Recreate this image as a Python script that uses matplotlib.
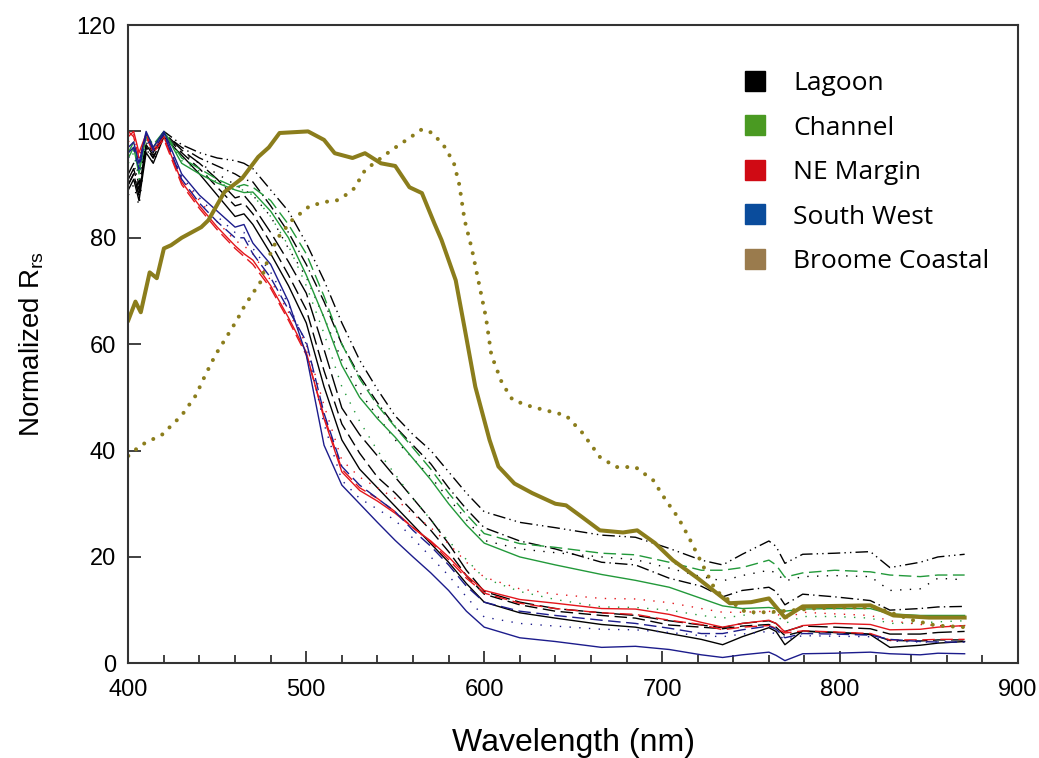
import matplotlib.pyplot as plt
from matplotlib.lines import Line2D


# Wavelength grid shared by the thin site curves (nm)
wl = [400, 403, 406, 410, 414, 420, 430, 440, 450, 460,
      465, 470, 480, 490, 500, 510, 520, 530, 540, 550,
      560, 570, 580, 590, 600, 620, 640, 666, 685, 704,
      722, 734, 745, 760, 764, 769, 779, 797, 817, 828,
      845, 855, 870]

# Lagoon (black)
lag_ddd = [92, 94, 90, 98, 96, 100, 97.5, 96, 95, 94.5,
           94, 93, 89, 85, 79, 72, 64, 57, 51.5, 46.5,
           43, 40, 36, 32, 28.5, 26.5, 25.5, 24.1, 23.7, 21.6,
           19.4, 18.5, 20.5, 23, 22, 18.8, 20.5, 20.7, 21, 18,
           19, 20, 20.5]
lag_dd = [90, 92, 88, 97, 95, 99.5, 97, 95, 93.5, 92,
          91, 90.5, 86, 81, 75, 68, 60, 54, 49, 44.5,
          41, 37.5, 33, 29, 25.5, 23, 21.5, 19, 18.5, 16,
          14.5, 12.5, 13.7, 14.3, 13.5, 11, 13, 12.5, 11.8, 10,
          10.3, 10.6, 10.7]
lag_dot = [88, 90, 86, 97, 94, 99.5, 96, 94, 92, 90,
           89, 88, 84, 78, 72.6, 65, 57, 51, 46.5, 42,
           38.5, 35, 31, 27, 23.1, 21.5, 20.8, 20, 19.5, 17.9,
           16.3, 15.5, 16.5, 17.5, 17, 15.5, 16.3, 16.5, 16.3, 13.7,
           14, 16, 15.7]
lag_solid = [89, 91, 87, 96, 94, 99, 95.5, 92, 88, 84,
             84.5, 82.5, 77, 71, 64, 52, 42, 36.5, 33, 29.5,
             26, 22.5, 19, 15, 11.5, 9.5, 8.5, 7.3, 6.8, 5.6,
             4.5, 3.5, 5, 6.7, 6, 3.5, 6.1, 5.8, 5.4, 3,
             3.4, 3.8, 4.1]
lag_dash = [90, 92, 88, 97, 95, 99.5, 96, 93, 89.5, 86,
            86.5, 84.5, 79, 73, 66.5, 55, 45, 39.5, 35, 32,
            28.5, 25, 21, 16.5, 13, 11, 9.8, 9, 8.5, 7.2,
            6.8, 6.5, 7, 7.3, 6.8, 5.2, 6, 5.8, 5.5, 4.3,
            4.2, 4.4, 4.4]
lag_long = [91, 93, 89, 97.5, 95.5, 99.8, 96.5, 94, 91, 87.5,
            88, 86, 81, 75.5, 69.6, 59, 48, 43, 39, 35,
            31, 27, 22.5, 17.5, 13.5, 11.5, 10.3, 9.5, 9, 8,
            7.2, 6.7, 7.5, 8, 7.5, 6, 7, 6.8, 6.5, 5.5,
            5.5, 5.8, 6]

# Channel (green)
ch_solid = [95, 97, 92, 99, 97, 100, 94, 92, 90.3, 89,
            88.5, 88.6, 85, 80, 73, 65, 56, 50, 46, 42.5,
            38.5, 34.5, 30, 26, 22.6, 20, 18.5, 16.7, 15.6, 14.3,
            12.2, 10.8, 10.3, 10.5, 10.3, 9.8, 10.2, 10.3, 10.3, 9.3,
            9, 9, 9]
ch_dash = [96, 98, 93, 99.5, 97.5, 100, 95, 93, 91, 89.5,
           90, 89.5, 87, 82.5, 77, 69, 60, 53.5, 48.5, 44.4,
           40.5, 36.5, 32, 28, 24.4, 22.5, 21.8, 20.7, 20.4, 19,
           17.5, 17.5, 18, 19.4, 18.5, 16.2, 17, 17.5, 17.2, 16.6,
           16.3, 16.6, 16.6]
ch_dot = [94, 96, 91, 98.5, 96.5, 99.8, 94.5, 92.5, 90.5, 89,
          89, 88, 84, 78.5, 71, 62, 52, 45.5, 40, 35.5,
          31, 27, 23, 19.5, 16, 13.5, 12, 10.6, 10.5, 10,
          9, 8.5, 9, 9.8, 9.2, 7.5, 8.8, 8.8, 8.5, 7.5,
          7.6, 7.8, 8]

# NE Margin (red)
ne_solid = [99, 100, 96, 99.5, 96.5, 99, 90.5, 86, 82, 78.5,
            77, 75.8, 71, 65, 58.5, 46, 36, 32.5, 30.5, 28.2,
            25.5, 23, 20, 16.5, 13.7, 12, 11.3, 10.3, 10.2, 9.2,
            7.7, 6.8, 7.5, 8.1, 7.5, 5.9, 7.1, 7.5, 7.3, 6.3,
            6.4, 6.8, 7.1]
ne_dash = [100, 99, 95, 99, 96, 98.5, 90, 85.5, 81.5, 78,
           76.5, 75, 70.5, 64.5, 58, 46.5, 36.5, 33, 31, 28.5,
           25.5, 22.8, 19.5, 16, 13.2, 11.3, 10.3, 9.5, 9.2, 8.1,
           7.3, 6.3, 6.8, 7.1, 6.6, 5.7, 6.1, 5.9, 5.6, 4.4,
           4.4, 4.5, 4.5]
ne_dot = [98, 99.5, 95, 99.5, 96.5, 99, 91, 87, 83, 79.5,
          78.5, 77, 72, 66, 60, 48.5, 38.2, 35, 33, 31,
          28, 25.5, 22.5, 19, 16.2, 14, 13, 12.2, 12.1, 11.4,
          10.3, 9.6, 9.6, 9.8, 9.4, 8.4, 9.6, 9.3, 9, 8,
          7.3, 7.1, 7]

# South West (blue)
sw_solid = [97, 98, 94, 100, 97, 100, 92, 88, 85, 82,
            82.5, 79, 75, 68, 58, 41, 33.5, 30, 26.5, 23.1,
            20, 17, 13.7, 9.8, 6.8, 4.8, 4.1, 3, 3.2, 2.6,
            1.6, 1.1, 1.6, 2.1, 1.5, 0.5, 1.8, 1.9, 2.1, 1.8,
            1.6, 1.9, 1.8]
sw_dash = [96, 97, 93, 99.5, 96.5, 99.5, 91, 86.5, 83, 80,
           80, 77, 72.5, 66.5, 60.5, 47, 37, 33.5, 31, 28.5,
           25, 22, 18.5, 14.5, 11.5, 9.8, 9, 8.1, 7.5, 6.6,
           5.6, 5.6, 6.3, 7, 6.4, 4.8, 5.6, 5.5, 5.3, 4.5,
           4.1, 4, 4]
sw_dot = [95, 96.5, 92, 99, 96, 99.5, 91.5, 87.5, 84, 81,
          81, 78, 73.5, 67.5, 60, 45, 34.4, 31, 29, 26.9,
          23.5, 20, 16.5, 12.5, 8.7, 7.5, 7, 6.4, 6.3, 5.8,
          5.2, 5, 5.5, 6, 5.5, 4.5, 5.2, 5.1, 5, 4.2,
          4, 4, 4]

# Broome Coastal (olive), own wavelength sampling
bc_solid_wl = [400, 404, 407, 412, 416, 420, 424, 430, 441, 445,
               454, 464, 473, 479, 485, 501, 510, 516, 526, 533,
               542, 550, 558, 565, 572, 576, 584, 589, 595, 603,
               608, 617, 627, 640, 646, 655, 665, 678, 686, 696,
               706, 720, 738, 750, 760, 769, 779, 800, 817, 830,
               850, 870]
bc_solid = [64.5, 68, 66, 73.5, 72.4, 78, 78.6, 80, 82, 83.3,
            88.6, 91.2, 95.2, 97, 99.7, 100, 98.4, 95.9, 95, 95.9,
            94, 93.5, 89.5, 88.4, 82.7, 79.6, 72, 63, 52, 42,
            37, 33.8, 32, 30, 29.7, 27.5, 25, 24.6, 25, 22.6,
            19.4, 16, 11.3, 11.5, 12.2, 8.6, 10.7, 10.8, 10.9, 9,
            8.6, 8.6]
bc_dot_wl = [400, 407, 419, 430, 438, 443, 449, 454, 461, 465,
             470, 474, 477, 479, 484, 492, 502, 513, 517, 522,
             527, 530, 533, 538, 548, 559, 565, 571, 578, 583,
             586, 589, 593, 597, 601, 604, 610, 616, 627, 646,
             655, 665, 674, 685, 695, 702, 709, 715, 722, 730,
             747, 760, 785, 798, 820, 841, 854, 870]
bc_dot = [39, 41, 43, 46.6, 50.4, 54, 58, 60.7, 64.5, 67,
          69.6, 71.5, 74.5, 76.4, 80, 83.3, 86, 86.9, 87, 88,
          89.3, 91, 92.7, 94, 96.5, 99, 100.4, 99.7, 97, 94,
          90, 83.3, 78, 71.5, 65, 58, 52.7, 49.5, 48.2, 46.6,
          43.4, 38.8, 36.9, 36.9, 34.4, 30.7, 27.4, 23.7, 19, 13.7,
          9.6, 9.6, 10.3, 10.5, 10.5, 8.1, 7.1, 6.8]

legend_labels = ['Lagoon', 'Channel', 'NE Margin', 'South West', 'Broome Coastal']
legend_colors = ['#000000', '#4a9a22', '#d00a14', '#0a4c9c', '#9a7b4d']


# Line colours and dash patterns
black, green, red, blue, olive = '#000000', '#22993a', '#e3161c', '#1c1c8c', '#8b7d1c'
solid = '-'
dashed = (0, (9, 4))
longdash = (0, (14, 4))
dotted = (0, (1, 6))
dashdot = (0, (9, 3, 1, 3))
dashdotdot = (0, (9, 3, 1, 3, 1, 3))

curves = [
    (lag_ddd, black, dashdotdot), (lag_dd, black, dashdot), (lag_dot, black, dotted),
    (lag_solid, black, solid), (lag_dash, black, dashed), (lag_long, black, longdash),
    (ch_solid, green, solid), (ch_dash, green, dashed), (ch_dot, green, dotted),
    (ne_solid, red, solid), (ne_dash, red, dashed), (ne_dot, red, dotted),
    (sw_solid, blue, solid), (sw_dash, blue, dashed), (sw_dot, blue, dotted),
]


plt.rcParams['font.family'] = ['Liberation Sans', 'DejaVu Sans']
plt.rcParams['xtick.labelsize'] = 17
plt.rcParams['ytick.labelsize'] = 17

fig = plt.figure(figsize=(10.39, 7.58), dpi=100)
ax = fig.add_axes([0.1235, 0.1249, 0.8563, 0.8421])

for vals, col, ls in curves:
    ax.plot(wl, vals, color=col, linestyle=ls, linewidth=1.0)

ax.plot(bc_solid_wl, bc_solid, color=olive, linewidth=2.9, solid_joinstyle='round')
ax.plot(bc_dot_wl, bc_dot, color=olive, linewidth=2.9,
        linestyle=(0, (0.01, 2.5)), dash_capstyle='round')

ax.set_xlim(400, 900)
ax.set_ylim(0, 120)
ax.set_xticks(range(400, 901, 100))
ax.set_xticks(range(400, 901, 20), minor=True)
ax.set_yticks(range(0, 121, 20))

ax.tick_params(axis='both', which='both', direction='in', top=False, right=False,
               width=1.3, color='#333333')
ax.tick_params(axis='both', which='major', length=9)
ax.tick_params(axis='x', which='minor', length=6)
ax.tick_params(axis='x', which='major', pad=11)
ax.tick_params(axis='y', which='major', pad=9)

for sp in ax.spines.values():
    sp.set_color('#333333')
    sp.set_linewidth(1.5)

ax.set_xlabel('Wavelength (nm)', fontsize=23, labelpad=20)
ax.set_ylabel(r'Normalized R$_{\mathregular{rs}}$', fontsize=20, labelpad=22)


# Legend with square swatches
handles = [Line2D([], [], marker='s', linestyle='', color=c, markersize=14)
           for c in legend_colors]
leg = ax.legend(handles, legend_labels, loc='upper left',
                bbox_to_anchor=(744 / 1039, 1 - 71 / 758), bbox_transform=fig.transFigure,
                frameon=False, handlelength=0.8, handletextpad=1.06,
                labelspacing=0.74, borderpad=0, borderaxespad=0,
                prop={'family': ['Open Sans', 'DejaVu Sans'], 'size': 19})

fig.savefig('out.png', dpi=100)
